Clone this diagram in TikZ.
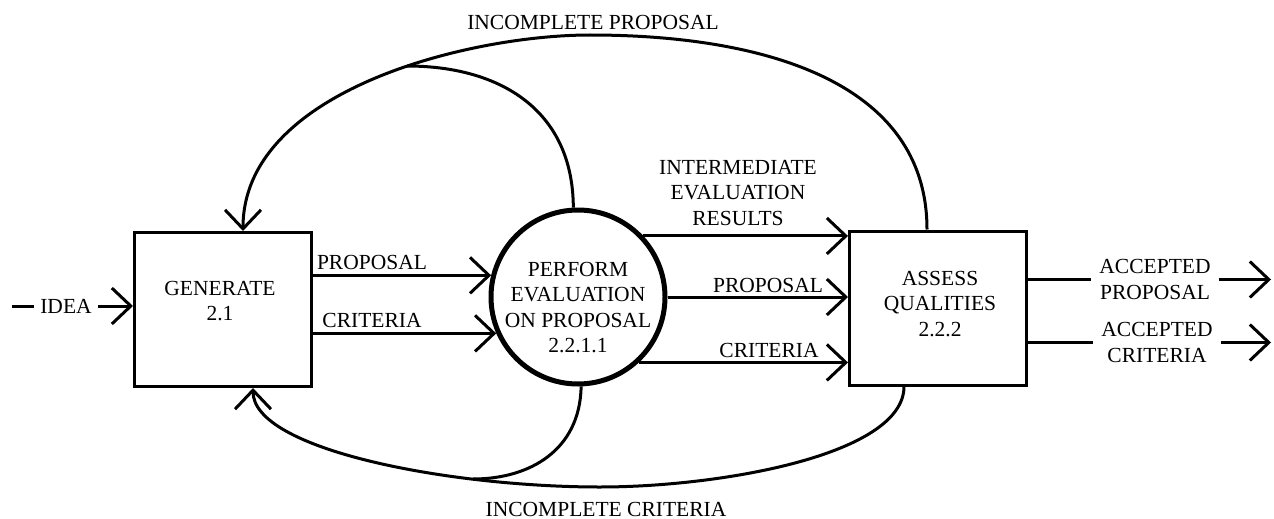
\documentclass[tikz,border=0pt]{standalone}
\usepackage{fontspec}
\setmainfont{Liberation Serif}
\usetikzlibrary{arrows.meta}
\begin{document}
\begin{tikzpicture}[x=1pt,y=-1pt,
  every node/.style={font=\fontsize{21.5}{25.5}\selectfont, text=black},
  proc/.style={draw, line width=3pt, minimum width=177pt, minimum height=154pt, inner sep=0pt},
  evalc/.style={draw, circle, line width=5pt, minimum size=174pt, inner sep=0pt},
  flow/.style={line width=3pt},
  arr/.style={flow, -{Straight Barb[length=19pt,width=36pt]}},
  lbl/.style={inner sep=3pt, align=center},
]
\useasboundingbox (0,0) rectangle (1274,519);

% processes
\node[proc] (g) at (223,309.5) {};
\node[lbl] (gt) at (220,301) {GENERATE\\2.1};
\node[proc] (a) at (938,308) {};
\node[lbl] (at) at (940,304) {ASSESS\\QUALITIES\\2.2.2};
\node[evalc] (c) at (578,297) {};
\node[lbl] (ct) at (578,307.5) {PERFORM\\EVALUATION\\ON PROPOSAL\\2.2.1.1};

% idea input
\coordinate (i0) at (12,306);
\node[lbl, inner sep=6pt] (idea) at (66,306) {IDEA};
\draw[flow] (i0) -- (idea.west);
\draw[arr] (idea.east) -- (idea.east -| g.west);

% generate -> evaluation
\node[lbl] (lp) at (372,262) {PROPOSAL};
\node[lbl] (lc) at (372,320) {CRITERIA};
\draw[arr] (g.east |- c.166) -- (c.166);
\draw[arr] (g.east |- c.204) -- (c.204);

% evaluation -> assess
\node[lbl] (im) at (738,193) {INTERMEDIATE\\EVALUATION\\RESULTS};
\draw[arr] (c.43) -- (c.43 -| a.west);
\node[lbl] (rp) at (768,285) {PROPOSAL};
\draw[arr] (c.east) -- (c.east -| a.west);
\node[lbl] (rc) at (769,350) {CRITERIA};
\draw[arr] (c.-47) -- (c.-47 -| a.west);

% outputs
\node[lbl, inner xsep=8pt] (ap) at (1155,279.5) {ACCEPTED\\PROPOSAL};
\node[lbl, inner xsep=8pt] (ac) at (1157,342.5) {ACCEPTED\\CRITERIA};
\coordinate (o1) at (1271,279.5);
\coordinate (o2) at (1271,342.5);
\draw[flow] (a.east |- ap) -- (ap.west);
\draw[arr] (ap.east) -- (o1);
\draw[flow] (a.east |- ac) -- (ac.west);
\draw[arr] (ac.east) -- (o2);

% incomplete proposal loop
\coordinate (tp) at (590,35);
\coordinate (jt) at (407,66);
\draw[arr] ([xshift=-11pt]a.north) .. controls (927,80) and (760,35) .. (tp)
  .. controls (470,35) and (243,90) .. ([xshift=20pt]g.north);
\draw[flow] (c.93) .. controls (573,110) and (500,66) .. (jt);
\node[lbl] (ip) at (593,22) {INCOMPLETE PROPOSAL};

% incomplete criteria loop
\coordinate (bp) at (600,487);
\coordinate (jb) at (473,479);
\draw[arr] ([xshift=-34pt]a.south) .. controls (904,455) and (720,487) .. (bp)
  .. controls (450,487) and (253,450) .. ([xshift=30pt]g.south);
\draw[flow] (c.-88) .. controls (580,450) and (530,479) .. (jb);
\node[lbl] (ic) at (606,509) {INCOMPLETE CRITERIA};
\end{tikzpicture}
\end{document}
